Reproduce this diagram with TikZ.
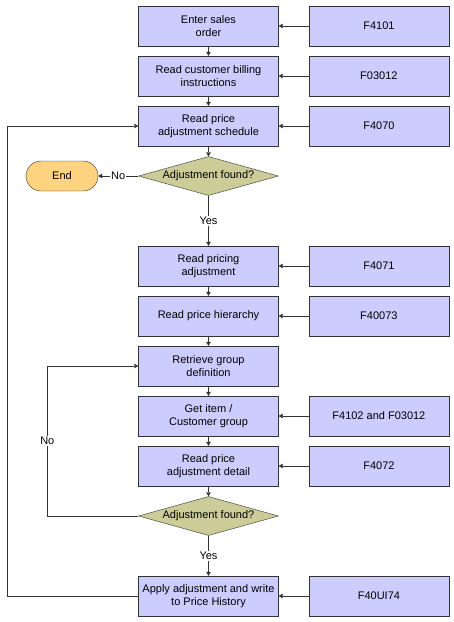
\documentclass[tikz,border=0pt]{standalone}
\usepackage{fontspec}
\setmainfont{Liberation Sans}
\usetikzlibrary{positioning,shapes.geometric,arrows.meta}
\definecolor{boxblue}{HTML}{CCCCFF}
\definecolor{decolive}{HTML}{CCCC99}
\definecolor{endorange}{HTML}{FFD37F}
\definecolor{linegray}{HTML}{333333}
\begin{document}
\begin{tikzpicture}[x=1pt,y=-1pt,
  every node/.style={font=\fontsize{11}{13}\selectfont},
  proc/.style={rectangle,draw=linegray,fill=boxblue,minimum width=140pt,
    minimum height=40pt,align=center,inner sep=1pt},
  tbl/.style={proc},
  dec/.style={diamond,draw=linegray,fill=decolive,aspect=3.5,inner sep=0pt,
    minimum width=140pt,minimum height=39pt},
  term/.style={rectangle,rounded corners=15pt,draw=linegray,fill=endorange,
    minimum width=72pt,minimum height=30pt},
  lbl/.style={fill=white,inner sep=1pt},
  flow/.style={draw=linegray,-{Triangle[length=4pt,width=4.5pt]}}]
\useasboundingbox (0,0) rectangle (454,622);
\node[proc] (order) at (208.5,26) {Enter sales\\order};
\node[proc] (billing) at (208.5,76) {Read customer billing\\instructions};
\node[proc] (sched) at (208.5,126) {Read price\\adjustment schedule};
\node[dec] (found1) at (208.5,176) {Adjustment found?};
\node[term] (end) at (62,176) {End};
\node[proc] (padj) at (208.5,266) {Read pricing\\adjustment};
\node[proc] (hier) at (208.5,316) {Read price hierarchy};
\node[proc] (group) at (208.5,366) {Retrieve group\\definition};
\node[proc] (cust) at (208.5,416) {Get item /\\Customer group};
\node[proc] (detail) at (208.5,466) {Read price\\adjustment detail};
\node[dec] (found2) at (208.5,516) {Adjustment found?};
\node[proc] (apply) at (208.5,596) {Apply adjustment and write\\to Price History};
% tables on the right
\node[tbl,right=30pt of order] (f4101) {F4101};
\node[tbl,right=30pt of billing] (f03012) {F03012};
\node[tbl,right=30pt of sched] (f4070) {F4070};
\node[tbl,right=30pt of padj] (f4071) {F4071};
\node[tbl,right=30pt of hier] (f40073) {F40073};
\node[tbl,right=30pt of cust] (f4102) {F4102 and F03012};
\node[tbl,right=30pt of detail] (f4072) {F4072};
\node[tbl,right=30pt of apply] (f40ui74) {F40UI74};
% main flow
\draw[flow] (order) -- (billing);
\draw[flow] (billing) -- (sched);
\draw[flow] (sched) -- (found1);
\draw[flow] (found1.west) -- node[lbl]{No} (end.east);
\draw[flow] (found1.south) -- node[lbl]{Yes} (padj.north);
\draw[flow] (padj) -- (hier);
\draw[flow] (hier) -- (group);
\draw[flow] (group) -- (cust);
\draw[flow] (cust) -- (detail);
\draw[flow] (detail) -- (found2.north);
\draw[flow] (found2.south) -- node[lbl]{Yes} (apply.north);
\draw[flow] (found2.west) -- ++(-91,0) |- node[lbl,pos=0.25]{No} (group.west);
\draw[flow] (apply.west) -- ++(-131,0) |- (sched.west);
% table reads
\foreach \t/\p in {f4101/order,f03012/billing,f4070/sched,f4071/padj,
  f40073/hier,f4102/cust,f4072/detail,f40ui74/apply}
  \draw[flow] (\t) -- (\p);
\end{tikzpicture}
\end{document}
